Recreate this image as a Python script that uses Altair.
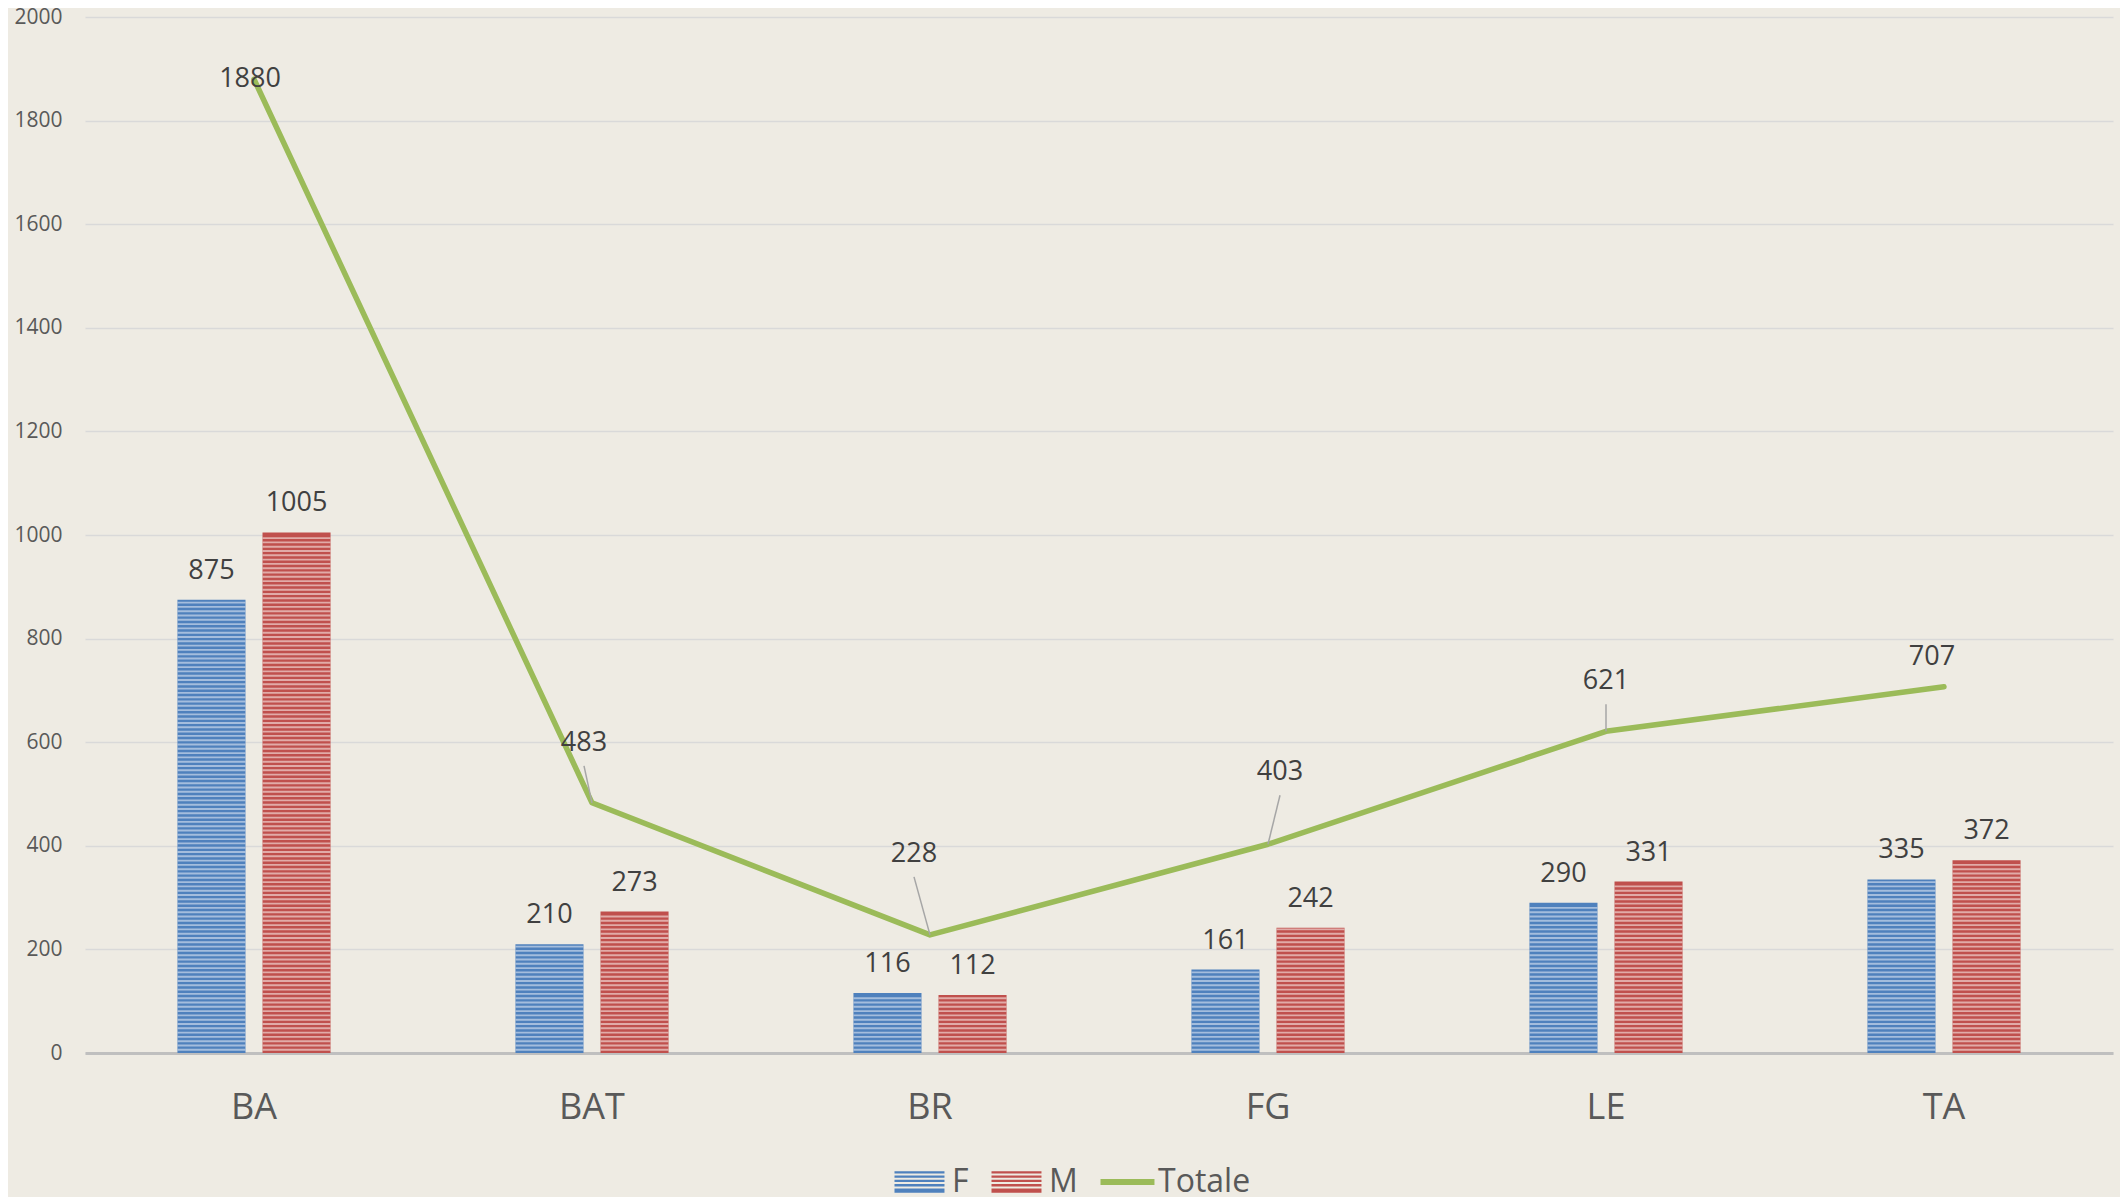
import altair as alt
import pandas as pd
import numpy as np

# ---------------- data ----------------
categories = ["BA", "BAT", "BR", "FG", "LE", "TA"]
f_values = [875, 210, 116, 161, 290, 335]
m_values = [1005, 273, 112, 242, 331, 372]
totale_values = [1880, 483, 228, 403, 621, 707]
series_names = ["F", "M", "Totale"]
y_ticks = [0, 200, 400, 600, 800, 1000, 1200, 1400, 1600, 1800, 2000]

# ---------------- style ----------------
W, H = 2028, 1036
YMAX = 2000
STEP = W / len(categories)
PXU = H / YMAX
FONT = "Open Sans"
BG = "#EEEBE3"
BLUE_D, BLUE_L = "#4F81BD", "#C9D7EB"
RED_D, RED_L = "#C0504D", "#F0D2CE"
GREEN = "#9BBB59"
LABEL_COLOR = "#404040"
AXIS_LABEL = "#595959"
STRIPE_PITCH_PX = 4.3
# label offsets (px) of the "Totale" data labels and which have leader lines
LABEL_OFFSETS = {"BA": (-4, 0), "BAT": (-8, -60), "BR": (-16, -81),
                 "FG": (12, -72), "LE": (0, -50), "TA": (-12, -30)}
LEADERS = {"BAT", "BR", "FG", "LE"}

# ---------------- tables ----------------
bars_df = pd.DataFrame({
    "cat": categories * 2,
    "series": ["F"] * len(categories) + ["M"] * len(categories),
    "value": f_values + m_values,
})

pitch = STRIPE_PITCH_PX / PXU
stripe_rows = []
for r in bars_df.itertuples():
    for lvl in np.arange(pitch * 0.75, r.value - pitch * 0.4, pitch):
        stripe_rows.append({"cat": r.cat, "series": r.series, "level": float(lvl)})
stripes_df = pd.DataFrame(stripe_rows)

tot_df = pd.DataFrame({"cat": categories, "idx": list(range(len(categories))),
                       "value": totale_values})
tot_df["lx"] = [i + LABEL_OFFSETS[c][0] / STEP for i, c in zip(tot_df.idx, tot_df.cat)]
tot_df["ly"] = [v - LABEL_OFFSETS[c][1] / PXU for v, c in zip(tot_df.value, tot_df.cat)]
tot_df["ly2"] = [v + (-LABEL_OFFSETS[c][1] - 23) / PXU for v, c in zip(tot_df.value, tot_df.cat)]
tot_df["leader"] = [c in LEADERS for c in tot_df.cat]

legend_df = pd.DataFrame({"cat": categories[:3], "series": series_names, "value": [-500] * 3})

# ---------------- encodings ----------------
Y_AXIS = alt.Axis(values=y_ticks, format="d", title=None, grid=True, gridColor="#D9D9D9",
                  gridWidth=1.5, domain=False, ticks=False, labelFontSize=21,
                  labelColor=AXIS_LABEL, labelFont=FONT, labelPadding=23)
Y_SCALE = alt.Scale(domain=[0, YMAX], nice=False)
X_AXIS = alt.Axis(title=None, labelAngle=0, labelFontSize=36, labelColor=AXIS_LABEL,
                  labelFont=FONT, labelPadding=37, ticks=False, domain=True,
                  domainColor="#BFBFBF", domainWidth=3, grid=False)
X_SCALE = alt.Scale(domain=categories, paddingInner=0.547, paddingOuter=0.2735)
XO_SCALE = alt.Scale(domain=["F", "M"], paddingInner=0.2, paddingOuter=0)


def xb():
    return alt.X("cat:N", scale=X_SCALE, axis=X_AXIS)


def xo():
    return alt.XOffset("series:N", scale=XO_SCALE)


bars = alt.Chart(bars_df).mark_bar().encode(
    x=xb(), xOffset=xo(),
    y=alt.Y("value:Q", scale=Y_SCALE, axis=Y_AXIS),
    fill=alt.condition("datum.series == 'F'", alt.value(BLUE_D), alt.value(RED_D)),
)

stripes = alt.Chart(stripes_df).mark_tick(orient="horizontal", size=68, thickness=1.9).encode(
    x=xb(), xOffset=xo(),
    y=alt.Y("level:Q", scale=Y_SCALE, axis=Y_AXIS),
    color=alt.condition("datum.series == 'F'", alt.value(BLUE_L), alt.value(RED_L)),
)

bar_labels = alt.Chart(bars_df).mark_text(dy=-29, baseline="middle", align="center",
                                          fontSize=27, font=FONT, color=LABEL_COLOR).encode(
    x=xb(), xOffset=xo(),
    y=alt.Y("value:Q", scale=Y_SCALE, axis=Y_AXIS),
    text="value:Q",
)

line = alt.Chart(tot_df).mark_line(color=GREEN, strokeWidth=5.5, strokeCap="round",
                                   strokeJoin="round").encode(
    x=xb(),
    y=alt.Y("value:Q", scale=Y_SCALE, axis=Y_AXIS),
)

# legend swatches: Vega scales custom paths by sqrt(size)/2 (unit square -1..1)
SYM = 441
stripe_path = " ".join(
    f"M-1,{-1.03 + k * 0.41:.3f}H3.76V{-1.03 + k * 0.41 + 0.22:.3f}H-1Z" for k in range(5)
) + " M-1,0.83H3.76V1.03H-1Z"
line_path = "M-1,-0.28H4.14V0.28H-1Z"

LEGEND = alt.Legend(title=None, orient="none", direction="horizontal", legendX=804,
                    legendY=1149, labelFontSize=32, labelFont=FONT, labelColor=AXIS_LABEL,
                    symbolSize=SYM, symbolStrokeWidth=0, symbolOpacity=1, labelOffset=31,
                    columnPadding=17, padding=0)

legend_layer = alt.Chart(legend_df).mark_point(filled=True, clip=True, size=SYM).encode(
    x=xb(),
    y=alt.Y("value:Q", scale=Y_SCALE, axis=Y_AXIS),
    color=alt.Color("series:N", scale=alt.Scale(domain=series_names,
                                                 range=[BLUE_D, RED_D, GREEN]),
                    legend=LEGEND),
    shape=alt.Shape("series:N", scale=alt.Scale(domain=series_names,
                                                 range=[stripe_path, stripe_path, line_path]),
                    legend=LEGEND),
)

inner = alt.layer(bars, stripes, bar_labels, line, legend_layer)

XQ_SCALE = alt.Scale(domain=[-0.5, len(categories) - 0.5], nice=False, zero=False)

leaders = alt.Chart(tot_df).transform_filter("datum.leader").mark_rule(
    color="#A6A6A6", strokeWidth=1.5).encode(
    x=alt.X("idx:Q", scale=XQ_SCALE, axis=None),
    x2="lx:Q",
    y=alt.Y("value:Q", scale=Y_SCALE, axis=Y_AXIS),
    y2="ly2:Q",
)

tot_labels = alt.Chart(tot_df).mark_text(baseline="middle", align="center", fontSize=27,
                                         font=FONT, color=LABEL_COLOR).encode(
    x=alt.X("lx:Q", scale=XQ_SCALE, axis=None),
    y=alt.Y("ly:Q", scale=Y_SCALE, axis=Y_AXIS),
    text="value:Q",
)

quant = alt.layer(leaders, tot_labels)

chart = alt.layer(inner, quant).resolve_scale(x="independent").properties(
    width=W, height=H,
    padding={"left": 77, "top": 9, "right": 7, "bottom": 170},
    autosize=alt.AutoSizeParams(type="none"),
    background=BG,
).configure_view(stroke=None)

chart.save("out.html", embed_options={"renderer": "svg", "actions": False})
